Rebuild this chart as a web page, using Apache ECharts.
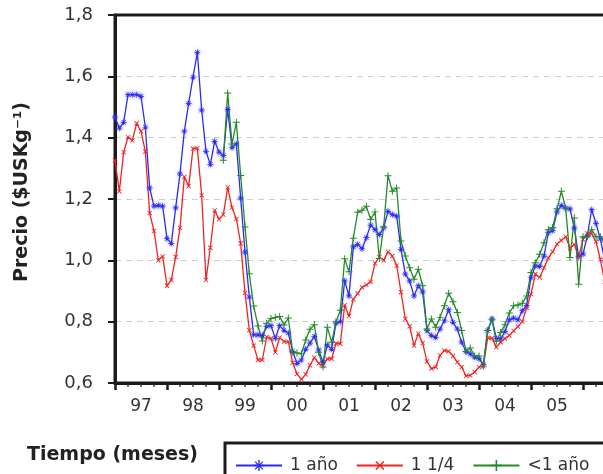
<!DOCTYPE html>
<html>
<head>
<meta charset="utf-8">
<script src="https://cdn.jsdelivr.net/npm/echarts@6/dist/echarts.min.js"></script>
<style>
  html, body { margin: 0; padding: 0; background: #fff; }
  #chart { width: 603px; height: 474px; }
</style>
</head>
<body>
<div id="chart"></div>
<script>
// Monthly prices, index 0 = January 1997
const yearLabels = ['97', '98', '99', '00', '01', '02', '03', '04', '05'];
const seriesNames = ['1 año', '1 1/4', '<1 año'];

const precio1Ano = [
  1.467, 1.431, 1.450, 1.540, 1.540, 1.540, 1.535, 1.434, 1.236, 1.177, 1.179, 1.177,
  1.071, 1.055, 1.171, 1.282, 1.421, 1.512, 1.597, 1.678, 1.490, 1.355, 1.313, 1.388,
  1.353, 1.342, 1.492, 1.368, 1.380, 1.203, 1.027, 0.880, 0.757, 0.757, 0.755, 0.785,
  0.787, 0.745, 0.787, 0.772, 0.763, 0.703, 0.664, 0.675, 0.710, 0.730, 0.752, 0.708,
  0.668, 0.724, 0.710, 0.795, 0.800, 0.933, 0.884, 1.044, 1.052, 1.038, 1.074, 1.115,
  1.100, 1.084, 1.106, 1.160, 1.149, 1.144, 1.036, 0.955, 0.933, 0.884, 0.917, 0.897,
  0.771, 0.755, 0.749, 0.776, 0.803, 0.839, 0.798, 0.776, 0.733, 0.703, 0.695, 0.684,
  0.679, 0.660, 0.771, 0.809, 0.745, 0.744, 0.768, 0.806, 0.812, 0.806, 0.836, 0.852,
  0.944, 0.982, 0.980, 1.014, 1.090, 1.097, 1.158, 1.179, 1.170, 1.168, 1.105, 1.012,
  1.020, 1.080, 1.165, 1.120, 1.070, 1.000
];

const precio1y14 = [
  1.326, 1.225, 1.353, 1.402, 1.391, 1.447, 1.421, 1.355, 1.154, 1.096, 1.000, 1.013,
  0.917, 0.936, 1.011, 1.106, 1.272, 1.242, 1.364, 1.366, 1.212, 0.936, 1.041, 1.163,
  1.134, 1.149, 1.238, 1.172, 1.135, 1.055, 0.894, 0.772, 0.722, 0.675, 0.675, 0.750,
  0.745, 0.700, 0.748, 0.735, 0.735, 0.666, 0.630, 0.612, 0.628, 0.658, 0.683, 0.664,
  0.655, 0.679, 0.679, 0.729, 0.728, 0.854, 0.818, 0.873, 0.892, 0.912, 0.920, 0.930,
  0.990, 1.011, 1.000, 1.028, 1.014, 0.983, 0.896, 0.809, 0.785, 0.722, 0.761, 0.730,
  0.670, 0.647, 0.652, 0.690, 0.706, 0.703, 0.688, 0.668, 0.652, 0.623, 0.625, 0.636,
  0.652, 0.655, 0.747, 0.746, 0.717, 0.733, 0.745, 0.755, 0.770, 0.784, 0.800, 0.845,
  0.890, 0.955, 0.944, 0.976, 1.008, 1.028, 1.053, 1.065, 1.077, 1.040, 1.052, 1.011,
  1.068, 1.088, 1.086, 1.061, 1.003, 0.930
];

const precioMenos1Ano = [
  null, null, null, null, null, null, null, null, null, null, null, null,
  null, null, null, null, null, null, null, null, null, null, null, null,
  null, 1.326, 1.546, 1.379, 1.450, 1.277, 1.109, 0.956, 0.851, 0.786, 0.737, 0.795,
  0.810, 0.814, 0.817, 0.789, 0.812, 0.701, 0.698, 0.695, 0.740, 0.775, 0.790, 0.700,
  0.652, 0.782, 0.733, 0.800, 0.837, 1.005, 0.963, 1.072, 1.157, 1.163, 1.176, 1.133,
  1.158, 1.006, 1.109, 1.276, 1.225, 1.236, 1.063, 1.014, 0.976, 0.938, 0.971, 0.917,
  0.776, 0.809, 0.782, 0.814, 0.852, 0.893, 0.865, 0.830, 0.771, 0.703, 0.714, 0.688,
  0.688, 0.655, 0.771, 0.806, 0.736, 0.765, 0.790, 0.828, 0.852, 0.854, 0.860, 0.884,
  0.960, 0.992, 1.020, 1.057, 1.100, 1.107, 1.168, 1.225, 1.170, 1.009, 1.138, 0.922,
  1.077, 1.077, 1.100, 1.077, 1.077, 1.060
];

const colors = ['#2a2af0', '#ee2424', '#24892a'];

// Pair each value with its month index
function toPoints(values) {
  const pts = [];
  values.forEach((v, i) => { if (v !== null) pts.push([i, v]); });
  return pts;
}

const PLUS = 'path://M-0.7,-5H0.7V-0.7H5V0.7H0.7V5H-0.7V0.7H-5V-0.7H-0.7Z';
const STAR = 'path://M-0.6,-5H0.6V-0.6H5V0.6H0.6V5H-0.6V0.6H-5V-0.6H-0.6Z' +
             'M-3.9,-3.1L-3.1,-3.9L3.9,3.1L3.1,3.9Z M3.1,-3.9L3.9,-3.1L-3.1,3.9L-3.9,3.1Z';

const FONT = '"DejaVu Sans", "Noto Sans", sans-serif';

function lineSeries(name, values, color, symbol, size, rotate, glow) {
  return {
    name: name,
    type: 'line',
    xAxisIndex: 0,
    data: toPoints(values),
    showSymbol: true,
    showAllSymbol: true,
    symbol: symbol,
    symbolSize: size,
    symbolRotate: rotate,
    lineStyle: { color: color, width: 1.3 },
    itemStyle: glow
      ? { color: color, shadowColor: 'rgba(110,110,255,0.6)', shadowBlur: 4 }
      : { color: color },
    emphasis: { disabled: true },
    z: 3
  };
}

const chart = echarts.init(document.getElementById('chart'), null, { renderer: 'canvas' });

chart.setOption({
  animation: false,
  backgroundColor: '#fff',
  grid: {
    left: 115, top: 15, width: 520, height: 368, z: 2,
    outerBoundsMode: 'none', containLabel: false,
    show: true, borderColor: '#1e1a1a', borderWidth: 3, backgroundColor: 'transparent'
  },
  xAxis: [
    {
      type: 'value', min: 0, max: 120, interval: 12,
      axisLine: { show: true, lineStyle: { color: '#1e1a1a', width: 3 } },
      axisTick: { show: true, length: 7, lineStyle: { color: '#1e1a1a', width: 2.5 } },
      minorTick: { show: true, splitNumber: 4, length: 4, lineStyle: { color: '#444', width: 1.5 } },
      axisLabel: { show: false },
      splitLine: { show: false }
    },
    {
      type: 'value', min: 0, max: 120, interval: 6, position: 'bottom',
      axisLine: { show: false },
      axisTick: { show: false },
      splitLine: { show: false },
      axisLabel: {
        show: true, margin: 15, fontSize: 17, color: '#333', fontFamily: FONT,
        formatter: function (v) {
          return (v % 12 === 6) ? (yearLabels[(v - 6) / 12] || '') : '';
        }
      }
    }
  ],
  yAxis: {
    type: 'value', min: 0.6, max: 1.8, interval: 0.2,
    axisLine: { show: true, lineStyle: { color: '#1e1a1a', width: 3 } },
    axisTick: { show: true, length: 7, lineStyle: { color: '#1e1a1a', width: 2 } },
    axisLabel: {
      margin: 22, fontSize: 18, color: '#333', fontFamily: FONT,
      formatter: function (v) { return v.toFixed(1).replace('.', ','); }
    },
    splitLine: { show: true, lineStyle: { color: '#cfcfcf', width: 1, type: [6, 5] } }
  },
  legend: {
    left: 230, top: 452,
    itemWidth: 46, itemHeight: 14, itemGap: 18,
    data: seriesNames,
    textStyle: { fontSize: 17, color: '#333', fontFamily: FONT, padding: [0, 0, 0, 3] }
  },
  graphic: [
    {
      type: 'text',
      x: 22, y: 192, rotation: Math.PI / 2,
      style: {
        text: 'Precio ($USKg⁻¹)', fontSize: 19, fontWeight: 'bold',
        fill: '#222', fontFamily: FONT, textAlign: 'center', textVerticalAlign: 'middle'
      }
    },
    {
      type: 'text', x: 27, y: 455,
      style: {
        text: 'Tiempo (meses)', fontSize: 19, fontWeight: 'bold',
        fill: '#222', fontFamily: FONT, textAlign: 'left', textVerticalAlign: 'middle'
      }
    },
    {
      type: 'rect',
      shape: { x: 225, y: 443, width: 420, height: 60 },
      style: { fill: 'transparent', stroke: '#1e1a1a', lineWidth: 3 }
    }
  ],
  series: [
    lineSeries(seriesNames[0], precio1Ano, colors[0], STAR, 6, 0, true),
    lineSeries(seriesNames[1], precio1y14, colors[1], PLUS, 6, 45, false),
    lineSeries(seriesNames[2], precioMenos1Ano, colors[2], PLUS, 7, 0, false)
  ]
});
</script>
</body>
</html>
